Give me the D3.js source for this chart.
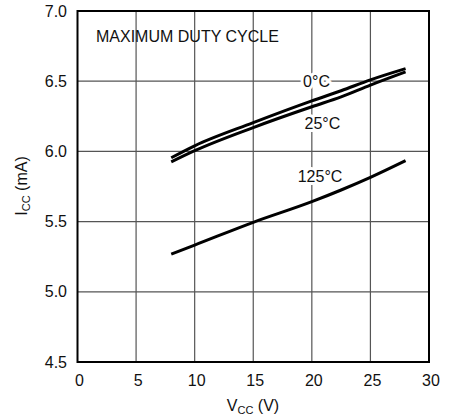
<!DOCTYPE html>
<html>
<head>
<meta charset="utf-8">
<script src="https://cdn.jsdelivr.net/npm/d3@7"></script>
<style>
  body { margin: 0; background: #fff; }
  svg text { font-family: "Liberation Sans", Arial, sans-serif; fill: #111; }
  .grid line { stroke: #555; stroke-width: 1.2; }
  .curve { fill: none; stroke: #000; stroke-width: 3; stroke-linejoin: round; }
</style>
</head>
<body>
<div id="chart"></div>
<script>
// supply current vs supply voltage, one series per temperature
const vcc = [8, 10, 15, 20, 22.5, 25, 28]
const icc0 = [5.955, 6.040, 6.205, 6.360, 6.432, 6.510, 6.590]
const icc25 = [5.925, 6.005, 6.170, 6.318, 6.388, 6.472, 6.566]
const icc125 = [5.269, 5.333, 5.495, 5.642, 5.725, 5.815, 5.934]
const seriesNames = ['0°C', '25°C', '125°C']
const xTicks = [0, 5, 10, 15, 20, 25, 30]
const yTicks = [4.5, 5.0, 5.5, 6.0, 6.5, 7.0]

const width = 461
const height = 419

const svg = d3.select('#chart')
  .append('svg')
  .attr('width', width)
  .attr('height', height)

const x = d3.scaleLinear().domain([0, 30]).range([77.5, 429])
const y = d3.scaleLinear().domain([4.5, 7]).range([362, 11])

// grid
const grid = svg.append('g').attr('class', 'grid')
grid.selectAll('.vx')
  .data(xTicks.slice(1, -1))
  .enter().append('line')
  .attr('x1', d => x(d)).attr('x2', d => x(d))
  .attr('y1', y(4.5)).attr('y2', y(7))
grid.selectAll('.hy')
  .data(yTicks.slice(1, -1))
  .enter().append('line')
  .attr('x1', x(0)).attr('x2', x(30))
  .attr('y1', d => y(d)).attr('y2', d => y(d))

// frame
svg.append('rect')
  .attr('x', x(0)).attr('y', y(7))
  .attr('width', x(30) - x(0)).attr('height', y(4.5) - y(7))
  .attr('fill', 'none').attr('stroke', '#000').attr('stroke-width', 2)

// tick labels
svg.append('g').selectAll('text')
  .data(xTicks)
  .enter().append('text')
  .attr('x', d => x(d) + 2)
  .attr('y', 386)
  .attr('text-anchor', 'middle')
  .attr('font-size', 16)
  .text(d => d)

svg.append('g').selectAll('text')
  .data(yTicks)
  .enter().append('text')
  .attr('x', 67)
  .attr('y', d => y(d))
  .attr('dy', '0.35em')
  .attr('text-anchor', 'end')
  .attr('font-size', 16)
  .text(d => d.toFixed(1))

// axis titles
const xt = svg.append('text')
  .attr('x', 253).attr('y', 411)
  .attr('text-anchor', 'middle')
  .attr('font-size', 16)
xt.append('tspan').text('V')
xt.append('tspan').attr('font-size', 11).attr('dy', 3).text('CC')
xt.append('tspan').attr('dy', -3).text(' (V)')

const yt = svg.append('text')
  .attr('transform', 'translate(27,186) rotate(-90)')
  .attr('text-anchor', 'middle')
  .attr('font-size', 16)
yt.append('tspan').text('I')
yt.append('tspan').attr('font-size', 11).attr('dy', 3).text('CC')
yt.append('tspan').attr('dy', -3).text(' (mA)')

// curves
const line = d3.line()
  .x(d => x(d[0]))
  .y(d => y(d[1]))
  .curve(d3.curveMonotoneX)

const series = [icc0, icc25, icc125]
svg.append('g').selectAll('path')
  .data(series)
  .enter().append('path')
  .attr('class', 'curve')
  .attr('d', s => line(vcc.map((v, i) => [v, s[i]])))

// labels with white backing so grid lines break behind them
const labels = [
  { name: seriesNames[0], v: 20.4, i: 6.5 },
  { name: seriesNames[1], v: 20.9, i: 6.2 },
  { name: seriesNames[2], v: 20.7, i: 5.82 },
]
const lab = svg.append('g').selectAll('g')
  .data(labels)
  .enter().append('g')
lab.append('text')
  .attr('x', d => x(d.v)).attr('y', d => y(d.i))
  .attr('dy', '0.35em')
  .attr('text-anchor', 'middle')
  .attr('font-size', 16)
  .attr('stroke', '#fff').attr('stroke-width', 6)
  .attr('stroke-linejoin', 'round')
  .text(d => d.name)
lab.append('text')
  .attr('x', d => x(d.v)).attr('y', d => y(d.i))
  .attr('dy', '0.35em')
  .attr('text-anchor', 'middle')
  .attr('font-size', 16)
  .text(d => d.name)

svg.append('text')
  .attr('x', 96).attr('y', 42)
  .attr('font-size', 16)
  .text('MAXIMUM DUTY CYCLE')
</script>
</body>
</html>
